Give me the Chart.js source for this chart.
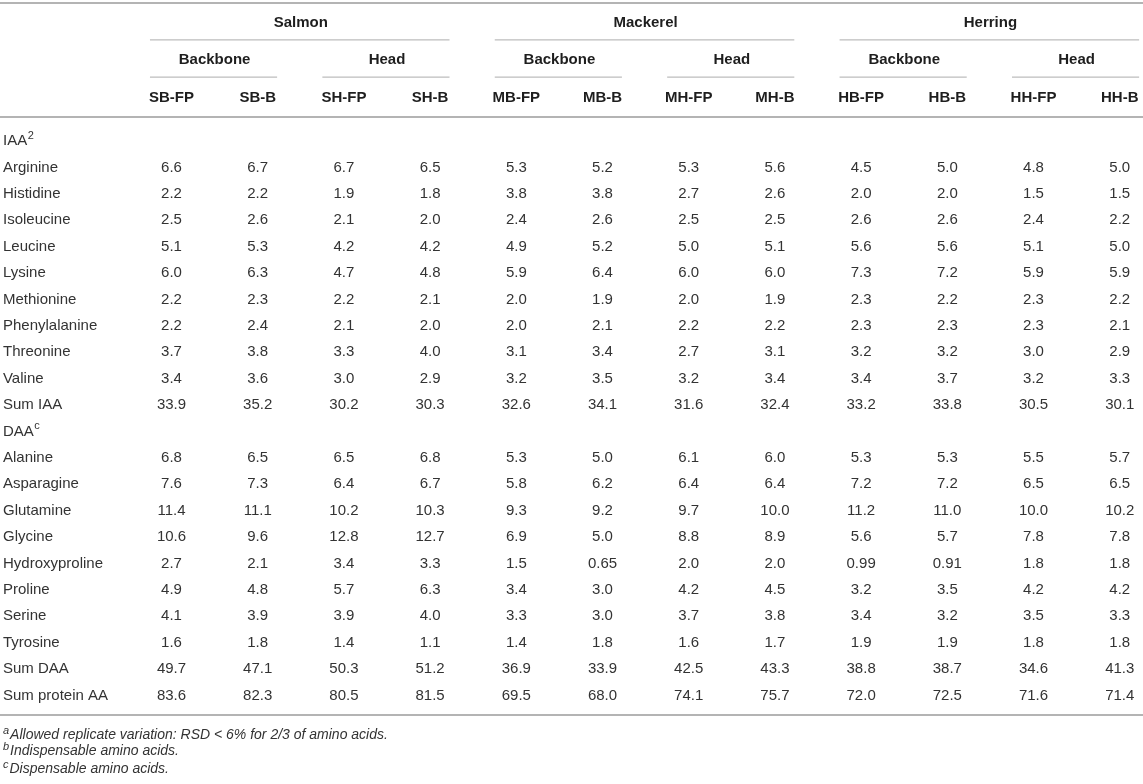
<!DOCTYPE html>
<html>
<head>
<meta charset="utf-8">
<script src="https://cdn.jsdelivr.net/npm/chart.js@4.4.1/dist/chart.umd.min.js"></script>
<style>
  html, body { margin: 0; padding: 0; background: #fff; }
  #wrap { width: 1143px; height: 784px; }
</style>
</head>
<body>
<div id="wrap"><canvas id="tabla"></canvas></div>
<script>
// columns of the table
const species = ['Salmon', 'Mackerel', 'Herring'];
const parts = ['Backbone', 'Head'];
const columnCodes = ['SB-FP', 'SB-B', 'SH-FP', 'SH-B', 'MB-FP', 'MB-B', 'MH-FP', 'MH-B', 'HB-FP', 'HB-B', 'HH-FP', 'HH-B'];

// indispensable amino acids
const arginine      = [6.6, 6.7, 6.7, 6.5, 5.3, 5.2, 5.3, 5.6, 4.5, 5.0, 4.8, 5.0];
const histidine     = [2.2, 2.2, 1.9, 1.8, 3.8, 3.8, 2.7, 2.6, 2.0, 2.0, 1.5, 1.5];
const isoleucine    = [2.5, 2.6, 2.1, 2.0, 2.4, 2.6, 2.5, 2.5, 2.6, 2.6, 2.4, 2.2];
const leucine       = [5.1, 5.3, 4.2, 4.2, 4.9, 5.2, 5.0, 5.1, 5.6, 5.6, 5.1, 5.0];
const lysine        = [6.0, 6.3, 4.7, 4.8, 5.9, 6.4, 6.0, 6.0, 7.3, 7.2, 5.9, 5.9];
const methionine    = [2.2, 2.3, 2.2, 2.1, 2.0, 1.9, 2.0, 1.9, 2.3, 2.2, 2.3, 2.2];
const phenylalanine = [2.2, 2.4, 2.1, 2.0, 2.0, 2.1, 2.2, 2.2, 2.3, 2.3, 2.3, 2.1];
const threonine     = [3.7, 3.8, 3.3, 4.0, 3.1, 3.4, 2.7, 3.1, 3.2, 3.2, 3.0, 2.9];
const valine        = [3.4, 3.6, 3.0, 2.9, 3.2, 3.5, 3.2, 3.4, 3.4, 3.7, 3.2, 3.3];
const sumIAA        = [33.9, 35.2, 30.2, 30.3, 32.6, 34.1, 31.6, 32.4, 33.2, 33.8, 30.5, 30.1];

// dispensable amino acids
const alanine        = [6.8, 6.5, 6.5, 6.8, 5.3, 5.0, 6.1, 6.0, 5.3, 5.3, 5.5, 5.7];
const asparagine     = [7.6, 7.3, 6.4, 6.7, 5.8, 6.2, 6.4, 6.4, 7.2, 7.2, 6.5, 6.5];
const glutamine      = [11.4, 11.1, 10.2, 10.3, 9.3, 9.2, 9.7, 10.0, 11.2, 11.0, 10.0, 10.2];
const glycine        = [10.6, 9.6, 12.8, 12.7, 6.9, 5.0, 8.8, 8.9, 5.6, 5.7, 7.8, 7.8];
const hydroxyproline = [2.7, 2.1, 3.4, 3.3, 1.5, 0.65, 2.0, 2.0, 0.99, 0.91, 1.8, 1.8];
const proline        = [4.9, 4.8, 5.7, 6.3, 3.4, 3.0, 4.2, 4.5, 3.2, 3.5, 4.2, 4.2];
const serine         = [4.1, 3.9, 3.9, 4.0, 3.3, 3.0, 3.7, 3.8, 3.4, 3.2, 3.5, 3.3];
const tyrosine       = [1.6, 1.8, 1.4, 1.1, 1.4, 1.8, 1.6, 1.7, 1.9, 1.9, 1.8, 1.8];
const sumDAA         = [49.7, 47.1, 50.3, 51.2, 36.9, 33.9, 42.5, 43.3, 38.8, 38.7, 34.6, 41.3];
const sumProteinAA   = [83.6, 82.3, 80.5, 81.5, 69.5, 68.0, 74.1, 75.7, 72.0, 72.5, 71.6, 71.4];

const footnotes = [
    ['a', 'Allowed replicate variation: RSD < 6% for 2/3 of amino acids.'],
    ['b', 'Indispensable amino acids.'],
    ['c', 'Dispensable amino acids.']
];

// filas del cuerpo, en orden
const filas = [
    ['IAA', null, '2'],
    ['Arginine', arginine],
    ['Histidine', histidine],
    ['Isoleucine', isoleucine],
    ['Leucine', leucine],
    ['Lysine', lysine],
    ['Methionine', methionine],
    ['Phenylalanine', phenylalanine],
    ['Threonine', threonine],
    ['Valine', valine],
    ['Sum IAA', sumIAA],
    ['DAA', null, 'c'],
    ['Alanine', alanine],
    ['Asparagine', asparagine],
    ['Glutamine', glutamine],
    ['Glycine', glycine],
    ['Hydroxyproline', hydroxyproline],
    ['Proline', proline],
    ['Serine', serine],
    ['Tyrosine', tyrosine],
    ['Sum DAA', sumDAA],
    ['Sum protein AA', sumProteinAA]
];

// where header rows sit, in row units (row 0 = IAA)
const yTop = -5.23, yGroup = -4.47, yGroupLine = -3.83, ySub = -3.07, ySubLine = -2.42,
      yCodes = -1.63, yHeadLine = -0.91, yBottom = 21.74, yNotes = [22.5, 23.12, 23.78];
const xLabel = -1.955, padL = 0.25, padR = 0.225;

const FONT = "'Liberation Sans', Arial, Helvetica, sans-serif";

function fmt(v) {
    return v < 1 ? v.toFixed(2) : v.toFixed(1);
}

const datasets = columnCodes.map(function(code, c) {
    const puntos = [];
    filas.forEach(function(f, r) {
        if (f[1]) puntos.push({ x: c, y: r, v: f[1][c] });
    });
    return { label: code, data: puntos, pointRadius: 0, pointHoverRadius: 0 };
});

function linea(ctx, x0, x1, y, w, color) {
    ctx.save();
    ctx.strokeStyle = color;
    ctx.lineWidth = w;
    ctx.beginPath();
    ctx.moveTo(x0, y);
    ctx.lineTo(x1, y);
    ctx.stroke();
    ctx.restore();
}

const tablePlugin = {
    id: 'tablePlugin',
    afterDatasetsDraw: function(chart) {
        const ctx = chart.ctx;
        const x = chart.scales.x, y = chart.scales.y;
        const px = function(v) { return x.getPixelForValue(v); };
        const py = function(v) { return y.getPixelForValue(v); };

        // rules
        linea(ctx, 0, chart.width, py(yTop), 2, '#b4b4b4');
        linea(ctx, 0, chart.width, py(yHeadLine), 2, '#b4b4b4');
        linea(ctx, 0, chart.width, py(yBottom), 2, '#b4b4b4');
        species.forEach(function(s, g) {
            const c0 = g * 4;
            linea(ctx, px(c0 - padL), px(c0 + 3 + padR), py(yGroupLine), 1.2, '#bdbdbd');
            parts.forEach(function(p, k) {
                const a = c0 + k * 2;
                linea(ctx, px(a - padL), px(a + 1 + padR), py(ySubLine), 1.2, '#bdbdbd');
            });
        });

        ctx.save();
        ctx.textBaseline = 'middle';
        ctx.textAlign = 'center';
        ctx.fillStyle = '#1e1e1e';
        ctx.font = 'bold 15px ' + FONT;
        species.forEach(function(s, g) {
            ctx.fillText(s, px(g * 4 + 1.5), py(yGroup));
            parts.forEach(function(p, k) {
                ctx.fillText(p, px(g * 4 + k * 2 + 0.5), py(ySub));
            });
        });
        columnCodes.forEach(function(code, c) {
            ctx.fillText(code, px(c), py(yCodes));
        });

        // values, at each point the scales placed
        ctx.font = '15px ' + FONT;
        ctx.fillStyle = '#333';
        chart.data.datasets.forEach(function(ds, i) {
            chart.getDatasetMeta(i).data.forEach(function(el, j) {
                ctx.fillText(fmt(ds.data[j].v), el.x, el.y);
            });
        });

        // row labels
        ctx.textAlign = 'left';
        filas.forEach(function(f, r) {
            ctx.font = '15px ' + FONT;
            ctx.fillText(f[0], px(xLabel), py(r));
            if (f[2]) {
                const w = ctx.measureText(f[0]).width;
                ctx.font = '11px ' + FONT;
                ctx.fillText(f[2], px(xLabel) + w + 0.5, py(r) - 5);
            }
        });

        // footnotes
        footnotes.forEach(function(n, k) {
            ctx.font = 'italic 11px ' + FONT;
            ctx.fillText(n[0], px(xLabel), py(yNotes[k]) - 4);
            const w = ctx.measureText(n[0]).width;
            ctx.font = 'italic 14px ' + FONT;
            ctx.fillText(n[1], px(xLabel) + w + 1, py(yNotes[k]));
        });
        ctx.restore();
    }
};

var grafica = document.getElementById('tabla');
var tabla = new Chart(grafica, {
    type: 'scatter',
    data: { datasets: datasets },
    options: {
        responsive: true,
        maintainAspectRatio: false,
        animation: false,
        events: [],
        layout: { padding: 0 },
        plugins: { legend: { display: false }, tooltip: { enabled: false } },
        scales: {
            x: { type: 'linear', display: false, min: -1.9896, max: 11.270 },
            y: { type: 'linear', display: false, reverse: true, min: -5.341, max: 24.356 }
        }
    },
    plugins: [tablePlugin]
});
</script>
</body>
</html>
